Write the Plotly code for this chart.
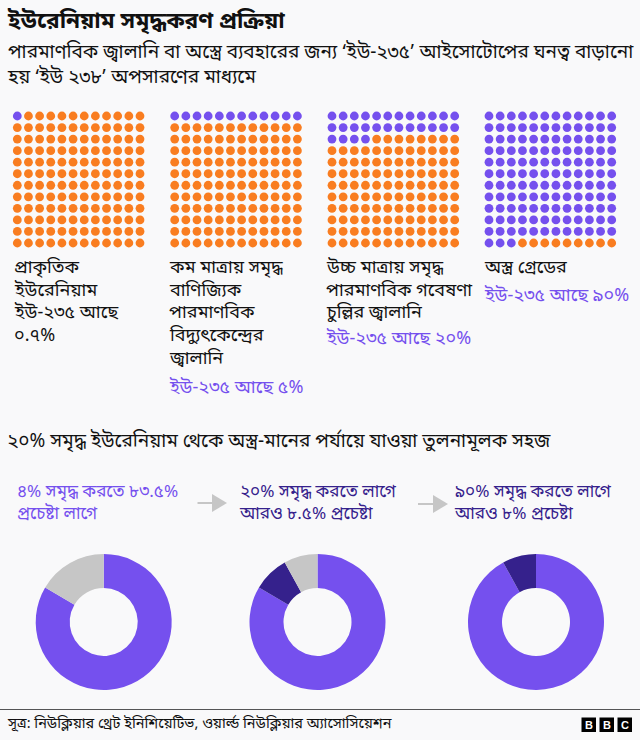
import plotly.graph_objects as go

W, H = 640, 740
BG = "#f9f9fa"
PURPLE = "#7550ee"
ORANGE = "#f97d20"
DARK = "#35218c"
GREY = "#c6c6c6"
INK = "#111111"
FONT = "Noto Sans Bengali, Noto Sans, Lohit Bengali, DejaVu Sans, sans-serif"

# --- data ---
grid_size = 12
enriched_dots = [1, 12, 28, 135]
grid_left_px = [17.3, 174.7, 332, 489]
grid_labels = [
    ["প্রাকৃতিক", "ইউরেনিয়াম", "ইউ-২৩৫ আছে", "০.৭%"],
    ["কম মাত্রায় সমৃদ্ধ", "বাণিজ্যিক", "পারমাণবিক", "বিদ্যুৎকেন্দ্রের", "জ্বালানি"],
    ["উচ্চ মাত্রায় সমৃদ্ধ", "পারমাণবিক গবেষণা", "চুল্লির জ্বালানি"],
    ["অস্ত্র গ্রেডের"],
]
grid_shares = ["", "ইউ-২৩৫ আছে ৫%", "ইউ-২৩৫ আছে ২০%", "ইউ-২৩৫ আছে ৯০%"]
share_y = [0, 388, 339, 296]
label_x = [13, 168, 325, 483]

donut_labels = ["effort", "next", "remaining"]
donut_values = [[83.5, 0, 16.5], [83.5, 8.5, 8], [92, 8, 0]]
donut_cx = [103.7, 317.5, 536]
donut_titles = [
    ("৪% সমৃদ্ধ করতে ৮৩.৫%<br>প্রচেষ্টা লাগে", PURPLE, 16),
    ("২০% সমৃদ্ধ করতে লাগে<br>আরও ৮.৫% প্রচেষ্টা", DARK, 237.5),
    ("৯০% সমৃদ্ধ করতে লাগে<br>আরও ৮% প্রচেষ্টা", DARK, 452.5),
]
title = "ইউরেনিয়াম সমৃদ্ধকরণ প্রক্রিয়া"
subtitle = "পারমাণবিক জ্বালানি বা অস্ত্রে ব্যবহারের জন্য ‘ইউ-২৩৫’ আইসোটোপের ঘনত্ব বাড়ানো<br>হয় ‘ইউ ২৩৮’ অপসারণের মাধ্যমে"
heading2 = "২০% সমৃদ্ধ ইউরেনিয়াম থেকে অস্ত্র-মানের পর্যায়ে যাওয়া তুলনামূলক সহজ"
source = "সূত্র: নিউক্লিয়ার থ্রেট ইনিশিয়েটিভ, ওয়ার্ল্ড নিউক্লিয়ার অ্যাসোসিয়েশন"

fig = go.Figure()
GRID_W, GRID_TOP, GRID_H = 122.7, 116, 127
layout_axes = {}
for i, n in enumerate(enriched_dots):
    s = "" if i == 0 else str(i + 1)
    xs, ys, cs = [], [], []
    for k in range(grid_size * grid_size):
        xs.append(k % grid_size)
        ys.append(k // grid_size)
        cs.append(PURPLE if k < n else ORANGE)
    fig.add_trace(go.Scatter(x=xs, y=ys, mode="markers", xaxis="x" + s, yaxis="y" + s,
                             marker=dict(color=cs, size=8.8, line=dict(width=0)),
                             hoverinfo="skip", showlegend=False, cliponaxis=False))
    left = grid_left_px[i]
    layout_axes["xaxis" + s] = dict(domain=[left / W, (left + GRID_W) / W], range=[0, 11],
                                    visible=False, fixedrange=True)
    layout_axes["yaxis" + s] = dict(domain=[1 - (GRID_TOP + GRID_H) / H, 1 - GRID_TOP / H],
                                    range=[11, 0], visible=False, fixedrange=True)

R = 68
CY = 622
for cx, vals in zip(donut_cx, donut_values):
    fig.add_trace(go.Pie(labels=donut_labels, values=vals, hole=0.5, sort=False, direction="clockwise",
                         rotation=0, textinfo="none", hoverinfo="skip", showlegend=False,
                         marker=dict(colors=[PURPLE, DARK, GREY], line=dict(width=0)),
                         domain=dict(x=[(cx - R) / W, (cx + R) / W],
                                     y=[1 - (CY + R) / H, 1 - (CY - R) / H])))

anns = []
def text(x, y, t, size, color=INK, weight=400):
    anns.append(dict(x=x / W, y=1 - y / H, xref="paper", yref="paper", text=t, showarrow=False,
                     xanchor="left", yanchor="middle", align="left", borderpad=0,
                     font=dict(family=FONT, size=size, color=color, weight=weight)))

text(6, 22, title, 22.7, weight=700)
text(6, 66, subtitle, 19)
for x, lines, sh, sy in zip(label_x, grid_labels, grid_shares, share_y):
    for k, line in enumerate(lines):
        text(x, 268 + 22.75 * k, line, 18)
    if sh:
        text(x, sy, sh, 18, color=PURPLE)
text(6, 442, heading2, 19)
for t, c, x in donut_titles:
    text(x, 503.5, t, 17.1, color=c)
text(6, 724, source, 14.5)

shapes = [dict(type="line", xref="paper", yref="paper", x0=0, x1=1, y0=1 - 709.5 / H, y1=1 - 709.5 / H,
               line=dict(color="#555555", width=1.2))]
def arrow(x0, x1, y):
    shapes.append(dict(type="line", xref="paper", yref="paper", x0=x0 / W, x1=(x1 - 14) / W,
                       y0=1 - y / H, y1=1 - y / H, line=dict(color=GREY, width=2)))
    px = lambda a, b: f"{a / W:.5f},{1 - b / H:.5f}"
    shapes.append(dict(type="path", xref="paper", yref="paper", fillcolor=GREY, line=dict(width=0),
                       path=f"M{px(x1 - 15, y - 9)} L{px(x1, y)} L{px(x1 - 15, y + 9)} Z"))
arrow(197.5, 227, 503)
arrow(418, 448, 504)

for x, letter in zip([581.5, 599.5, 617.5], "BBC"):
    shapes.append(dict(type="rect", xref="paper", yref="paper", x0=x / W, x1=(x + 14.5) / W,
                       y0=1 - 732 / H, y1=1 - 717.5 / H, fillcolor="#000000", line=dict(width=0)))
    anns.append(dict(x=(x + 7.25) / W, y=1 - 725 / H, xref="paper", yref="paper", text=letter, showarrow=False,
                     xanchor="center", yanchor="middle",
                     font=dict(family="Liberation Sans", size=11, color="#ffffff", weight=700)))

fig.update_layout(width=W, height=H, margin=dict(l=0, r=0, t=0, b=0), paper_bgcolor=BG, plot_bgcolor=BG,
                  annotations=anns, shapes=shapes, showlegend=False, **layout_axes)
fig.write_html("out.html", config=dict(displayModeBar=False),
               post_script="document.body.style.margin='0';document.documentElement.style.background='" + BG + "';")
